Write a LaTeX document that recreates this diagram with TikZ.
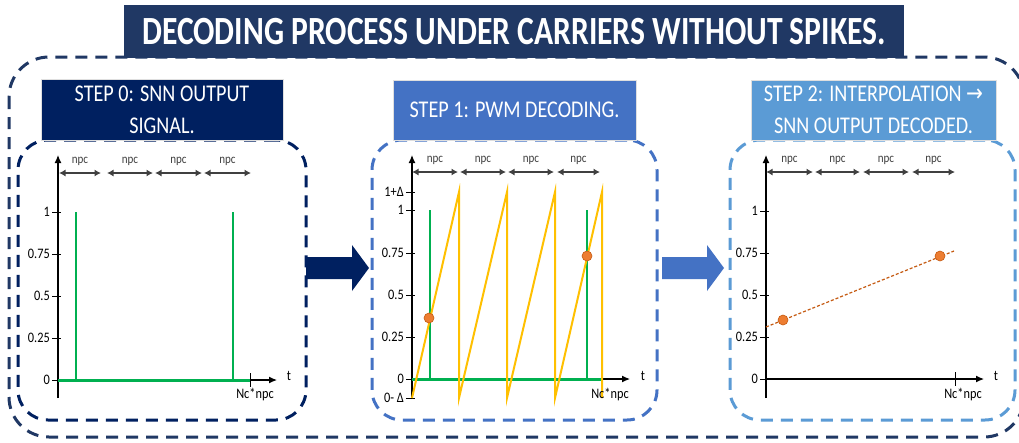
\documentclass[tikz,border=0pt]{standalone}
\usepackage{fontspec}
\setmainfont{Carlito}
\newfontfamily\titlefont[FakeStretch=0.79]{Carlito}
\newfontfamily\hdrfont[FakeStretch=0.84]{Carlito}
\newfontfamily\smallfont[FakeStretch=0.85]{Carlito}
\newfontfamily\arrowfont[FakeStretch=0.84]{DejaVu Sans}
\usetikzlibrary{arrows.meta}
\definecolor{navyA}{HTML}{203864}
\definecolor{navyB}{HTML}{002060}
\definecolor{blueB}{HTML}{4472C4}
\definecolor{blueC}{HTML}{5B9BD5}
\definecolor{sgreen}{HTML}{00B050}
\definecolor{saw}{HTML}{FFC000}
\definecolor{dotfill}{HTML}{ED7D31}
\definecolor{dotline}{HTML}{C55A11}
\definecolor{npcgray}{HTML}{404040}
\tikzset{
  outerbox/.style={draw=navyA, line width=3pt, dash pattern=on 12pt off 8pt, rounded corners=40pt},
  panelbox/.style={rectangle, inner sep=0pt, line width=3pt, dash pattern=on 12pt off 8pt, rounded corners=30pt},
  headbox/.style={rectangle, inner sep=0pt, text=white, align=center, draw=gray!25, line width=0.6pt,
    font=\hdrfont\fontsize{24}{32}\selectfont},
  titlebox/.style={rectangle, inner sep=0pt, fill=navyA, text=white,
    font=\titlefont\bfseries\fontsize{40}{40}\selectfont},
  axisline/.style={black, line width=1.2pt, -{Latex[length=8pt,width=7pt]}},
  npcarr/.style={npcgray, line width=1.3pt, {Latex[length=6.5pt,width=7pt]}-{Latex[length=6.5pt,width=7pt]}},
  tickline/.style={black, line width=1pt},
  ticklab/.style={font=\smallfont\fontsize{14.5}{14.5}\selectfont, anchor=east, inner sep=0pt},
  axlab/.style={font=\smallfont\fontsize{14.5}{14.5}\selectfont, inner sep=0pt},
  npclab/.style={font=\smallfont\fontsize{13}{13}\selectfont, text=npcgray, inner sep=0pt},
  spike/.style={sgreen, line width=2.5pt},
  baseline/.style={sgreen, line width=3pt},
  sawline/.style={saw, line width=2pt, line join=miter},
  dotnode/.style={circle, fill=dotfill, draw=dotline, line width=0.6pt, minimum size=10pt, inner sep=0pt},
  interp/.style={dotline, line width=1.2pt, dash pattern=on 3pt off 2pt}
}
\begin{document}
\begin{tikzpicture}[x=1pt, y=-1pt]
\useasboundingbox (0,0) rectangle (1019,442);
\fill[white] (0,0) rectangle (1019,442);

% outer frame and title
\draw[outerbox] (9,57) rectangle (1024,437);
\node[titlebox, minimum width=780pt, minimum height=53pt] (title) at (514,31.5)
  {DECODING PROCESS UNDER CARRIERS WITHOUT SPIKES.};

% panel frames
\node[panelbox, draw=navyB, minimum width=288pt, minimum height=280pt] (p0) at (162,280) {};
\node[panelbox, draw=blueB, minimum width=285pt, minimum height=280pt] (p1) at (514.5,280) {};
\node[panelbox, draw=blueC, minimum width=285pt, minimum height=280pt] (p2) at (872.5,280) {};

% headers
\node[headbox, fill=navyB, minimum width=242pt, minimum height=61pt] (h0) at (162,109.5)
  {STEP 0: SNN OUTPUT\\SIGNAL.};
\node[headbox, fill=blueB, minimum width=243pt, minimum height=60pt] (h1) at (514.5,110)
  {STEP 1: PWM DECODING.};
\node[headbox, fill=blueC, minimum width=245pt, minimum height=60pt] (h2) at (873.5,110)
  {STEP 2: INTERPOLATION {\arrowfont\fontsize{24}{32}\selectfont →}\\SNN OUTPUT DECODED.};

% big arrows between panels
\fill[navyB] (306,257) -- (352,257) -- (352,245) -- (369,268) -- (352,291) -- (352,279) -- (306,279) -- cycle;
\fill[blueB] (662,257) -- (707,257) -- (707,245) -- (724,268) -- (707,291) -- (707,279) -- (662,279) -- cycle;

% ================= panel 0 =================
\draw[axisline] (58,398) -- (58,155);
\draw[axisline] (58,380) -- (277,380);
\foreach \v/\l [count=\i] in {1/1, 0.75/0.75, 0.5/0.5, 0.25/0.25, 0/0} {
  \draw[tickline] (52,{380-168*\v}) -- (61,{380-168*\v});
  \node[ticklab] (a\i) at (50,{380-168*\v}) {\l};
}
\foreach \a/\b [count=\i] in {59/101, 107/153, 155/202, 204/251} {
  \coordinate (na\i) at (\a,173);
  \coordinate (nb\i) at (\b,173);
  \draw[npcarr] (na\i) -- (nb\i);
  \node[npclab] (nl\i) at ({(\a+\b)/2},161) {npc};
}
\draw[spike] (76,212) -- (76,380);
\draw[spike] (233,212) -- (233,380);
\draw[baseline] (58,380) -- (250,380);
\draw[tickline] (250,373) -- (250,387);
\node[axlab, anchor=north] (nc0) at (255,388) {Nc*npc};
\node[axlab] (t0) at (289,376) {t};

% ================= panel 1 =================
\draw[axisline] (412,398) -- (412,155);
\draw[axisline] (412,379) -- (630,379);
\foreach \y/\l [count=\i] in {192/1+Δ, 210/1, 253/0.75, 295/0.5, 337/0.25, 379/0, 398/0- Δ} {
  \draw[tickline] (406,\y) -- (415,\y);
  \node[ticklab] (b\i) at (404,\y) {\l};
}
\foreach \a/\b [count=\i] in {412/458, 460/506, 508/554, 557/600} {
  \draw[npcarr] (\a,172) -- (\b,172);
  \node[npclab] (ml\i) at ({(\a+\b)/2},160) {npc};
}
\draw[spike] (430,210) -- (430,379);
\draw[spike] (587,210) -- (587,379);
\draw[baseline] (412,379) -- (602,379);
\draw[sawline] (412,398) -- (459,192) -- (459,398) -- (507,192) -- (507,398)
  -- (555,192) -- (555,398) -- (602,192) -- (602,398);
\node[dotnode] (d1) at (429,318) {};
\node[dotnode] (d2) at (587,256) {};
\node[axlab, anchor=north] (nc1) at (610,388) {Nc*npc};
\node[axlab] (t1) at (643,376) {t};

% ================= panel 2 =================
\draw[axisline] (766,398) -- (766,155);
\draw[axisline] (766,379) -- (984,379);
\foreach \v/\l [count=\i] in {1/1, 0.75/0.75, 0.5/0.5, 0.25/0.25, 0/0} {
  \draw[tickline] (760,{379-168*\v}) -- (769,{379-168*\v});
  \node[ticklab] (c\i) at (758,{379-168*\v}) {\l};
}
\foreach \a/\b [count=\i] in {766/813, 815/860, 863/909, 912/955} {
  \draw[npcarr] (\a,172) -- (\b,172);
  \node[npclab] (kl\i) at ({(\a+\b)/2},160) {npc};
}
\coordinate (li0) at (766,327);
\coordinate (li1) at (954,251);
\draw[interp] (li0) -- (li1);
\node[dotnode] (e1) at (783,320) {};
\node[dotnode] (e2) at (940,256) {};
\draw[tickline] (955,372) -- (955,386);
\node[axlab, anchor=north] (nc2) at (963,388) {Nc*npc};
\node[axlab] (t2) at (996,376) {t};
\end{tikzpicture}
\end{document}
